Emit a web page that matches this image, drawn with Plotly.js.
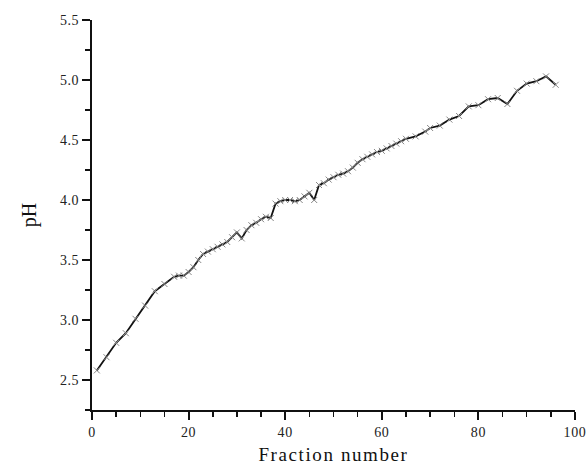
<!DOCTYPE html>
<html>
<head>
<meta charset="utf-8">
<script src="https://cdn.plot.ly/plotly-3.0.1.min.js"></script>
<style>
html,body{margin:0;padding:0;background:#fff;}
#chart{width:588px;height:465px;}
#chart .xtitle{letter-spacing:1.6px;}
#chart .xtick text, #chart .ytick text{letter-spacing:0.6px;}
</style>
</head>
<body>
<div id="chart"></div>
<script>
const fraction = [1,3,5,7,9,11,13,15,17,18,19,20,21,22,23,24,25,26,27,28,29,30,31,32,33,34,35,36,37,38,39,40,41,42,43,44,45,46,47,48,49,50,51,52,53,54,55,56,57,58,59,60,61,62,63,64,65,67,69,70,72,74,76,78,80,82,84,86,88,90,92,94,96];
const pH = [2.58,2.69,2.81,2.89,3.01,3.12,3.24,3.30,3.36,3.37,3.37,3.40,3.44,3.50,3.55,3.57,3.59,3.61,3.63,3.65,3.69,3.73,3.68,3.75,3.79,3.81,3.84,3.86,3.85,3.97,3.99,4.00,4.00,3.99,4.00,4.03,4.06,4.00,4.125,4.14,4.17,4.19,4.21,4.22,4.24,4.27,4.31,4.34,4.36,4.38,4.40,4.41,4.43,4.45,4.47,4.49,4.51,4.53,4.57,4.60,4.62,4.67,4.70,4.78,4.79,4.84,4.85,4.80,4.91,4.97,4.99,5.03,4.96];
const xTitle = "Fraction number";
const yTitle = "pH";

const fontFam = "Liberation Serif, Times New Roman, serif";
const trace = {
  x: fraction, y: pH, type: 'scatter', mode: 'lines+markers',
  line: {color: '#111', width: 1.8},
  marker: {symbol: 'x-thin', size: 6, color: '#888', line: {color: '#888', width: 1}},
  hoverinfo: 'none'
};
const layout = {
  width: 588, height: 465,
  margin: {l: 92, r: 13, t: 20, b: 55},
  paper_bgcolor: '#fff', plot_bgcolor: '#fff',
  showlegend: false,
  font: {family: fontFam, color: '#222', size: 14},
  xaxis: {
    range: [0, 100], dtick: 20, tick0: 0,
    showline: true, linecolor: '#111', linewidth: 2,
    ticks: 'outside', ticklen: 8, tickwidth: 2, tickcolor: '#111',
    minor: {dtick: 5, ticks: 'outside', ticklen: 5, tickwidth: 1.5, tickcolor: '#111'},
    showgrid: false, zeroline: false,
    tickfont: {family: fontFam, size: 14, color: '#222'},
    title: {text: xTitle, font: {family: fontFam, size: 19, color: '#111'}, standoff: 10}
  },
  yaxis: {
    range: [2.25, 5.5], dtick: 0.5, tick0: 2.5, tickformat: '.1f',
    showline: true, linecolor: '#111', linewidth: 2,
    ticks: 'outside', ticklen: 8, tickwidth: 2, tickcolor: '#111',
    minor: {dtick: 0.25, ticks: 'outside', ticklen: 5, tickwidth: 1.5, tickcolor: '#111'},
    showgrid: false, zeroline: false,
    tickfont: {family: fontFam, size: 14, color: '#222'},
    title: {text: yTitle, font: {family: fontFam, size: 20, color: '#111'}, standoff: 20}
  }
};
Plotly.newPlot('chart', [trace], layout, {staticPlot: true, displayModeBar: false});
</script>
</body>
</html>
